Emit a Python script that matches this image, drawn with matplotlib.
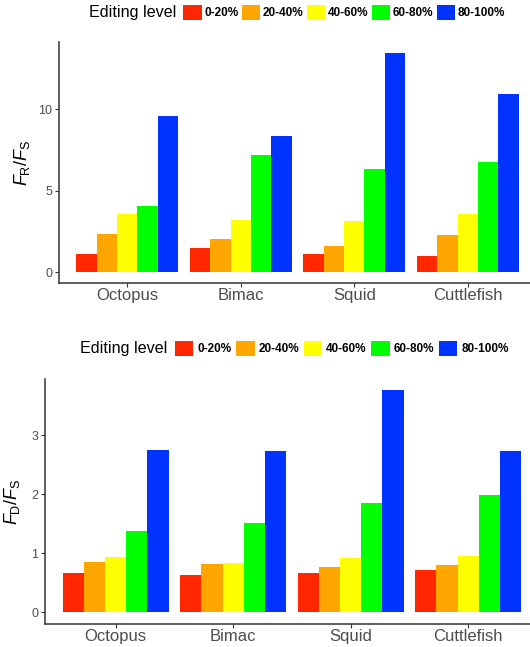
import numpy as np
import matplotlib.pyplot as plt
from matplotlib.patches import Patch

plt.rcParams['font.family'] = ['Liberation Sans', 'DejaVu Sans']
plt.rcParams['mathtext.fontset'] = 'custom'
plt.rcParams['mathtext.rm'] = 'Liberation Sans'
plt.rcParams['mathtext.it'] = 'Liberation Sans:italic'

categories = ['Octopus', 'Bimac', 'Squid', 'Cuttlefish']
levels = ['0-20%', '20-40%', '40-60%', '60-80%', '80-100%']
level_colors = ['#FF2600', '#FFA500', '#FFFF00', '#00FF00', '#0033FF']

# F_R / F_S, one list per editing level (Octopus, Bimac, Squid, Cuttlefish)
fr_0_20 = [1.09, 1.50, 1.13, 1.00]
fr_20_40 = [2.36, 2.03, 1.60, 2.30]
fr_40_60 = [3.55, 3.22, 3.11, 3.55]
fr_60_80 = [4.08, 7.21, 6.33, 6.78]
fr_80_100 = [9.57, 8.34, 13.42, 10.96]

# F_D / F_S
fd_0_20 = [0.66, 0.64, 0.66, 0.71]
fd_20_40 = [0.85, 0.82, 0.77, 0.80]
fd_40_60 = [0.93, 0.84, 0.92, 0.96]
fd_60_80 = [1.38, 1.52, 1.85, 1.98]
fd_80_100 = [2.74, 2.73, 3.76, 2.73]

fr_series = [fr_0_20, fr_20_40, fr_40_60, fr_60_80, fr_80_100]
fd_series = [fd_0_20, fd_20_40, fd_40_60, fd_60_80, fd_80_100]

W, H = 530, 647
fig = plt.figure(figsize=(W / 100, H / 100), dpi=100)

# axes placed in pixels; the right side runs past the figure edge like the original crop
def px_axes(left, top, right, bottom):
    return fig.add_axes([left / W, 1 - bottom / H, (right - left) / W, (bottom - top) / H])

def draw_panel(ax, series, yticks, ylabel, label_x):
    x = np.arange(1, len(categories) + 1)
    bw = 0.9 / len(levels)
    for i, vals in enumerate(series):
        ax.bar(x - 0.45 + bw * (i + 0.5), vals, width=bw, color=level_colors[i], linewidth=0)
    ymax = max(max(v) for v in series)
    ax.set_ylim(-0.05 * ymax, 1.05 * ymax)
    ax.set_xlim(0.4, len(categories) + 0.6)
    ax.set_xticks(x)
    ax.set_xticklabels(categories, fontsize=12, color='#4D4D4D')
    ax.set_yticks(yticks)
    ax.set_yticklabels([str(t) for t in yticks], fontsize=9, color='#4D4D4D')
    ax.tick_params(axis='x', length=2.75, width=0.8, color='#333333', pad=1)
    ax.tick_params(axis='y', length=2.75, width=0.8, color='#333333', pad=2.2)
    for s in ['top', 'right']:
        ax.spines[s].set_visible(False)
    for s in ['left', 'bottom']:
        ax.spines[s].set_linewidth(1.1)
        ax.spines[s].set_color('#333333')
    ax.set_ylabel(ylabel, fontsize=13)
    ax.yaxis.set_label_coords(label_x, 0.5)

def draw_legend(key_left, y_center, title_left, textpad, colspace, keyh):
    handles = [Patch(facecolor=c, edgecolor='none') for c in level_colors]
    fig.legend(handles, levels, ncol=5, loc='center left',
               bbox_to_anchor=(key_left / W, 1 - y_center / H),
               frameon=False, borderpad=0, borderaxespad=0,
               handlelength=1.56, handleheight=keyh, handletextpad=textpad,
               columnspacing=colspace, prop={'size': 8.5, 'weight': 'bold'})
    fig.text(title_left / W, 1 - y_center / H, 'Editing level', fontsize=11.6,
             ha='left', va='center')

ax1 = px_axes(59.2, 42.5, 535.8, 283)
draw_panel(ax1, fr_series, [0, 5, 10], r'$F_{\mathrm{R}}/F_{\mathrm{S}}$', -0.058)
draw_legend(183.3, 12.4, 88.9, 0.22, 0.29, 1.6)

ax2 = px_axes(45.2, 379, 538.7, 623.6)
draw_panel(ax2, fd_series, [0, 1, 2, 3], r'$F_{\mathrm{D}}/F_{\mathrm{S}}$', -0.046)
draw_legend(175, 348.5, 80, 0.34, 0.39, 1.7)

fig.savefig('out.png', dpi=100)
